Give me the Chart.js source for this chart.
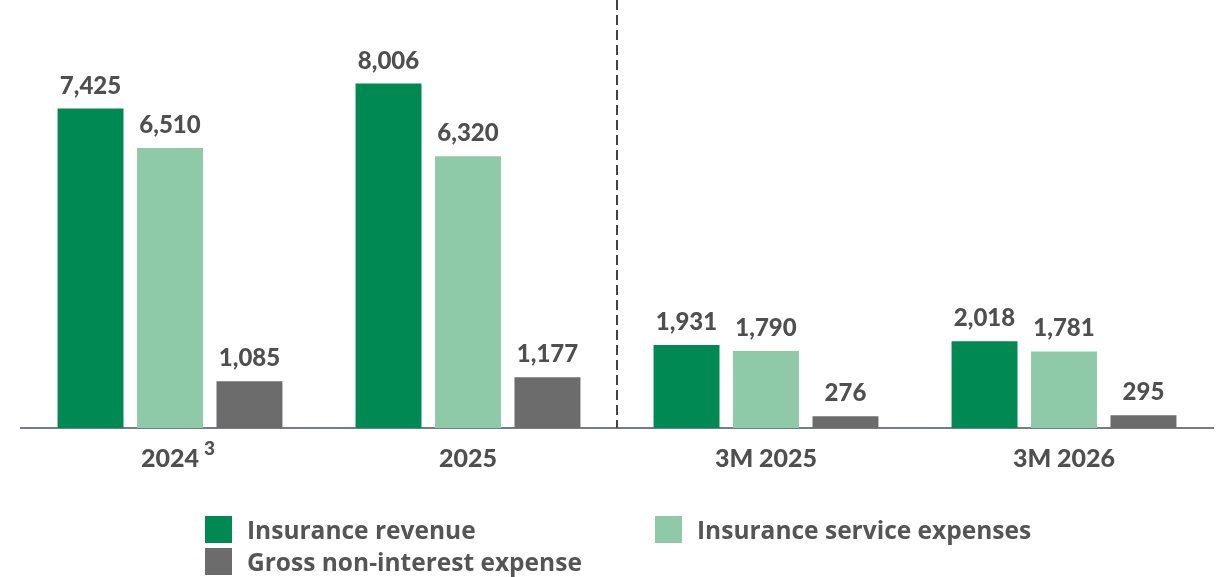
<!DOCTYPE html>
<html>
<head>
<meta charset="utf-8">
<script src="https://cdn.jsdelivr.net/npm/chart.js@4.4.1/dist/chart.umd.min.js"></script>
<style>
  html, body { margin: 0; padding: 0; background: #fff; }
  #wrap { position: relative; width: 1227px; height: 577px; }
  #legend { position: absolute; left: 0; top: 0; width: 1227px; height: 577px; pointer-events: none;
    font-family: "Open Sans", sans-serif; font-weight: 700; font-size: 24.5px; color: #555; }
  .item { position: absolute; display: flex; align-items: center; height: 27px; white-space: nowrap; }
  .box { width: 27px; height: 27px; margin-right: 15px; }
</style>
</head>
<body>
<div id="wrap">
  <canvas id="chart" width="1227" height="577"></canvas>
  <div id="legend"></div>
</div>
<script>
// Данные диаграммы
const categories = ['2024', '2025', '3M 2025', '3M 2026'];
const insuranceRevenue = [7425, 8006, 1931, 2018];
const insuranceServiceExpenses = [6510, 6320, 1790, 1781];
const grossNonInterestExpense = [1085, 1177, 276, 295];
const seriesNames = ['Insurance revenue', 'Insurance service expenses', 'Gross non-interest expense'];
const seriesColors = ['#008953', '#8fcaa8', '#6c6c6c'];

const textColor = '#4f4f4f';

// Подписи значений над столбцами
const valueLabels = {
  id: 'valueLabels',
  afterDatasetsDraw(chart) {
    const ctx = chart.ctx;
    ctx.save();
    ctx.font = '900 24px Lato, sans-serif';
    ctx.fillStyle = textColor;
    ctx.textAlign = 'center';
    ctx.textBaseline = 'alphabetic';
    chart.data.datasets.forEach((ds, i) => {
      chart.getDatasetMeta(i).data.forEach((bar, j) => {
        ctx.fillText(ds.data[j].toLocaleString('en-US'), bar.x, bar.y - 15);
      });
    });
    ctx.restore();
  }
};

// Пунктирный разделитель между годами и кварталами + сноска "3"
const divider = {
  id: 'divider',
  afterDraw(chart) {
    const ctx = chart.ctx;
    const xs = chart.scales.x;
    const x = (xs.getPixelForValue(1) + xs.getPixelForValue(2)) / 2;
    ctx.save();
    ctx.strokeStyle = '#444';
    ctx.lineWidth = 2;
    ctx.setLineDash([10, 5]);
    ctx.beginPath();
    ctx.moveTo(x, 0);
    ctx.lineTo(x, chart.chartArea.bottom);
    ctx.stroke();
    ctx.setLineDash([]);

    // сноска у 2024
    ctx.font = '900 25px Lato, sans-serif';
    const w = ctx.measureText(categories[0]).width;
    ctx.font = '900 19px Lato, sans-serif';
    ctx.fillStyle = textColor;
    ctx.textAlign = 'left';
    ctx.textBaseline = 'alphabetic';
    ctx.fillText('3', xs.getPixelForValue(0) + w / 2 + 5, 455);
    ctx.restore();
  }
};

const datasets = [insuranceRevenue, insuranceServiceExpenses, grossNonInterestExpense].map((d, i) => ({
  label: seriesNames[i],
  data: d,
  backgroundColor: seriesColors[i],
  borderWidth: 0,
  categoryPercentage: 0.8,
  barPercentage: 0.83
}));

new Chart(document.getElementById('chart').getContext('2d'), {
  type: 'bar',
  data: { labels: categories, datasets: datasets },
  options: {
    responsive: false,
    animation: false,
    layout: { padding: { left: 21, right: 14, top: 0, bottom: 87 } },
    plugins: { legend: { display: false }, tooltip: { enabled: false } },
    scales: {
      x: {
        grid: { display: false, drawTicks: false },
        border: { display: true, color: '#6f7e8c', width: 2 },
        ticks: { color: textColor, padding: 16, font: { family: 'Lato', weight: '900', size: 25 } }
      },
      y: {
        display: false,
        min: 0,
        max: 9950
      }
    }
  },
  plugins: [valueLabels, divider]
});

// Легенда
const legendPos = [[205, 516], [655, 516], [205, 548]];
const legend = document.getElementById('legend');
seriesNames.forEach((name, i) => {
  const el = document.createElement('div');
  el.className = 'item';
  el.style.left = legendPos[i][0] + 'px';
  el.style.top = legendPos[i][1] + 'px';
  el.innerHTML = '<span class="box" style="background:' + seriesColors[i] + '"></span><span>' + name + '</span>';
  legend.appendChild(el);
});
</script>
</body>
</html>
